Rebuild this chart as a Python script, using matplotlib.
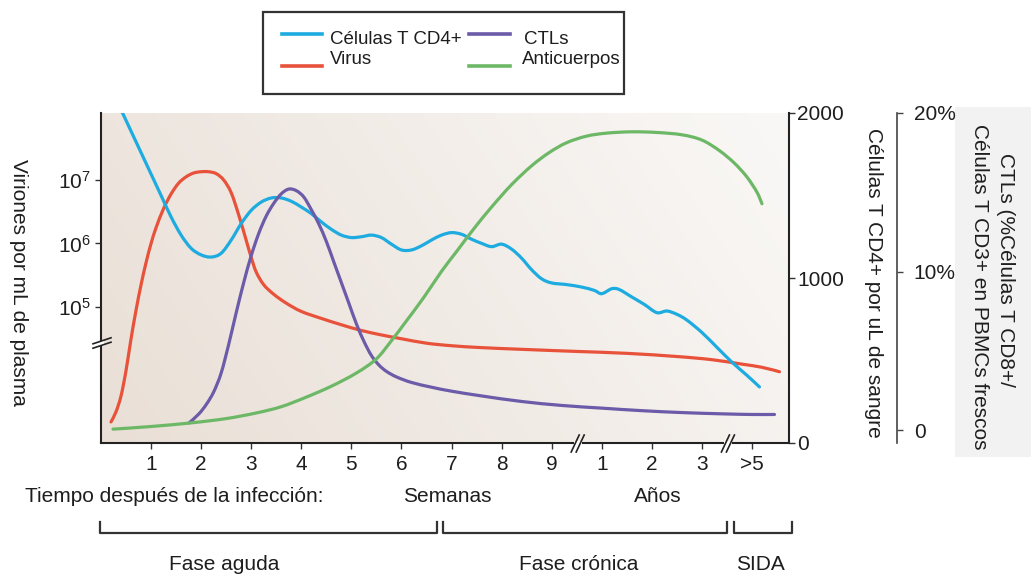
import matplotlib
matplotlib.use('Agg')
import numpy as np
import matplotlib.pyplot as plt
from matplotlib.lines import Line2D
from matplotlib.patches import Rectangle, PathPatch
from matplotlib.path import Path
from matplotlib.ticker import NullLocator
from matplotlib.transforms import blended_transform_factory

plt.rcParams['font.family'] = ['Liberation Sans', 'DejaVu Sans']
plt.rcParams['mathtext.fontset'] = 'custom'
plt.rcParams['mathtext.rm'] = 'Liberation Sans'
plt.rcParams['mathtext.it'] = 'Liberation Sans:italic'

# ---------------- data ----------------
# x position: 1..9 = weeks, 10..12 = years 1..3, 13 = ">5" years
tick_pos = [1, 2, 3, 4, 5, 6, 7, 8, 9, 10, 11, 12, 13]
tick_labels = ["1", "2", "3", "4", "5", "6", "7", "8", "9", "1", "2", "3", ">5"]

cd4_x = [0.40, 0.60, 0.80, 1.00, 1.20, 1.40, 1.60, 1.80, 2.00, 2.20, 2.40, 2.60, 2.80,
         3.00, 3.20, 3.40, 3.60, 3.80, 4.00, 4.20, 4.40, 4.60, 4.80, 5.00, 5.20, 5.40,
         5.60, 5.80, 6.00, 6.20, 6.40, 6.60, 6.80, 7.00, 7.20, 7.40, 7.60, 7.80, 8.00,
         8.20, 8.40, 8.60, 8.80, 9.00, 9.30, 9.60, 9.85, 10.00, 10.20, 10.35, 10.60,
         10.85, 11.10, 11.30, 11.50, 11.70, 12.00, 12.30, 12.60, 12.90, 13.15]
cd4_cells = [2020, 1890, 1760, 1630, 1500, 1370, 1260, 1180, 1140, 1127, 1150, 1230, 1330,
             1410, 1460, 1485, 1485, 1465, 1430, 1390, 1340, 1295, 1260, 1245, 1250, 1260,
             1245, 1205, 1170, 1170, 1195, 1230, 1260, 1275, 1265, 1235, 1210, 1190, 1205,
             1175, 1120, 1050, 995, 970, 960, 945, 925, 905, 935, 930, 885,
             840, 790, 800, 780, 745, 670, 580, 490, 410, 340]

virus_x = [0.20, 0.30, 0.40, 0.50, 0.60, 0.70, 0.80, 0.90, 1.00, 1.10, 1.25, 1.40, 1.55,
           1.70, 1.85, 2.00, 2.15, 2.30, 2.45, 2.60, 2.75, 2.90, 3.00, 3.10, 3.25, 3.45,
           3.70, 4.00, 4.40, 4.80, 5.20, 5.60, 6.00, 6.50, 7.00, 7.60, 8.50, 9.50, 10.50,
           11.50, 12.20, 12.80, 13.20, 13.55]
virus_log10 = [3.19, 3.35, 3.60, 4.00, 4.50, 4.95, 5.35, 5.70, 6.00, 6.25, 6.55, 6.78, 6.95,
               7.05, 7.11, 7.13, 7.13, 7.10, 7.00, 6.80, 6.45, 6.05, 5.78, 5.55, 5.35, 5.20,
               5.06, 4.93, 4.82, 4.72, 4.63, 4.56, 4.50, 4.43, 4.39, 4.36, 4.33, 4.30, 4.27,
               4.22, 4.17, 4.10, 4.05, 3.98]

ctl_x = [1.76, 1.95, 2.10, 2.25, 2.40, 2.55, 2.70, 2.85, 3.00, 3.15, 3.30, 3.45, 3.60,
         3.75, 3.90, 4.05, 4.20, 4.35, 4.50, 4.65, 4.80, 4.95, 5.10, 5.25, 5.40, 5.55,
         5.70, 5.90, 6.20, 6.60, 7.00, 7.60, 8.40, 9.20, 10.00, 10.80, 11.60, 12.40,
         13.00, 13.45]
ctl_pct = [0.45, 1.0, 1.6, 2.4, 3.6, 5.4, 7.4, 9.3, 11.0, 12.4, 13.5, 14.3, 14.9,
           15.2, 15.1, 14.7, 13.9, 13.0, 11.9, 10.6, 9.3, 8.0, 6.7, 5.6, 4.7, 4.1,
           3.7, 3.35, 3.0, 2.7, 2.45, 2.15, 1.8, 1.55, 1.38, 1.22, 1.1, 1.02,
           0.98, 0.98]

ab_x = [0.24, 1.0, 1.8, 2.5, 3.1, 3.6, 4.1, 4.6, 5.1, 5.5, 5.8, 6.1, 6.45, 6.8, 7.1,
        7.45, 7.8, 8.2, 8.6, 8.95, 9.3, 9.7, 10.1, 10.6, 11.1, 11.6, 12.0, 12.35,
        12.65, 12.9, 13.1, 13.2]
ab_level = [4.2, 5.0, 6.1, 7.4, 9.1, 11.0, 13.9, 17.2, 21.2, 25.5, 31.0, 37.0, 44.2,
            52.0, 58.0, 65.0, 71.5, 78.3, 84.0, 88.0, 91.0, 93.0, 93.9, 94.3, 94.1,
            93.4, 91.8, 88.6, 84.8, 80.6, 76.0, 72.5]

# ---------------- styles ----------------
C_BLUE = '#1DABE0'
C_RED = '#E8523B'
C_PURPLE = '#6B5BA8'
C_GREEN = '#6DB866'
C_TXT = '#1e1e1e'
LW = 2.3
FS = 15

W, H = 1031, 577
fig = plt.figure(figsize=(W / 100, H / 100), dpi=100)
fig.patch.set_facecolor('white')


def fx(px):
    return px / W


def fy(py):
    return 1 - py / H


def smooth_path(xs, ys):
    """Catmull-Rom spline through the read points, drawn as cubic Bezier path."""
    P = np.column_stack([xs, ys]).astype(float)
    n = len(P)
    verts = [P[0]]
    codes = [Path.MOVETO]
    for i in range(n - 1):
        p0 = P[i - 1] if i > 0 else P[i]
        p1 = P[i]
        p2 = P[i + 1]
        p3 = P[i + 2] if i + 2 < n else P[i + 1]
        c1 = p1 + (p2 - p0) / 6.0
        c2 = p2 - (p3 - p1) / 6.0
        verts += [c1, c2, p2]
        codes += [Path.CURVE4] * 3
    return np.array(verts), codes


def draw_curve(a, xs, ys, color, log=False):
    yv = np.log10(ys) if log else np.asarray(ys, float)
    verts, codes = smooth_path(xs, yv)
    if log:
        verts[:, 1] = 10 ** verts[:, 1]
    patch = PathPatch(Path(verts, codes), facecolor='none', edgecolor=color, lw=LW,
                      capstyle='round', joinstyle='round', transform=a.transData)
    a.add_patch(patch)


pos = [fx(101), fy(443), fx(789) - fx(101), fy(113) - fy(443)]

# gradient background
bg = fig.add_axes(pos, zorder=0)
bg.axis('off')
gx = np.linspace(0, 1, 256)
gy = np.linspace(0, 1, 64)
GX, GY = np.meshgrid(gx, gy)
t = np.clip(0.8 * GX + 0.25 * GY, 0, 1)
c0 = np.array([233, 223, 214]) / 255
c1 = np.array([249, 247, 245]) / 255
img = c0[None, None, :] * (1 - t[..., None]) + c1[None, None, :] * t[..., None]
bg.imshow(img, extent=[0, 1, 0, 1], origin='lower', aspect='auto')
bg.set_xlim(0, 1)
bg.set_ylim(0, 1)

# main axis: virus (log)
ax = fig.add_axes(pos, zorder=1)
ax.patch.set_visible(False)
ax.set_xlim(0, 13.74)
ax.set_yscale('log')
ax.set_ylim(10 ** 2.858, 10 ** 8.055)

ax_cd4 = ax.twinx()
ax_ctl = ax.twinx()
ax_ab = ax.twinx()

# curves
draw_curve(ax_ab, ab_x, ab_level, C_GREEN)
draw_curve(ax, virus_x, [10 ** v for v in virus_log10], C_RED, log=True)
draw_curve(ax_ctl, ctl_x, ctl_pct, C_PURPLE)
draw_curve(ax_cd4, cd4_x, cd4_cells, C_BLUE)
for a in (ax, ax_cd4, ax_ctl, ax_ab):
    a.set_xlim(0, 13.74)
ax.set_ylim(10 ** 2.858, 10 ** 8.055)
ax_cd4.set_ylim(0, 2000)
ax_ctl.set_ylim(-0.82, 19.93)
ax_ab.set_ylim(0, 100)

# spines
for s in ['top', 'right']:
    ax.spines[s].set_visible(False)
for s in ['left', 'bottom']:
    ax.spines[s].set_linewidth(1.5)
    ax.spines[s].set_color('#222222')
for a in (ax_cd4, ax_ctl, ax_ab):
    for s in ['top', 'left', 'bottom']:
        a.spines[s].set_visible(False)
ax_ab.spines['right'].set_visible(False)
ax_ab.set_yticks([])
ax_cd4.spines['right'].set_linewidth(1.5)
ax_cd4.spines['right'].set_color('#222222')
ax_ctl.spines['right'].set_position(('outward', 108 * 0.72))
ax_ctl.spines['right'].set_linewidth(1.2)
ax_ctl.spines['right'].set_color('#444444')

# ticks
ax.set_xticks(tick_pos)
ax.set_xticklabels(tick_labels)
ax.tick_params(axis='x', length=4, width=1, pad=5, labelsize=FS, colors='#333333',
               labelcolor=C_TXT)
ax.set_yticks([1e5, 1e6, 1e7])
ax.set_yticklabels([r'$10^{5}$', r'$10^{6}$', r'$10^{7}$'])
ax.yaxis.set_minor_locator(NullLocator())
ax.tick_params(axis='y', length=4, width=1, pad=3, labelsize=FS, colors='#333333',
               labelcolor=C_TXT)

ax_cd4.set_yticks([0, 1000, 2000])
ax_cd4.tick_params(axis='y', length=4, width=1, pad=2, labelsize=FS, colors='#333333',
                   labelcolor=C_TXT)
ax_ctl.set_yticks([0, 10, 20])
ax_ctl.set_yticklabels(['0', '10%', '20%'])
ax_ctl.tick_params(axis='y', length=4, width=1, pad=8, labelsize=FS, colors='#444444',
                   labelcolor=C_TXT)

# axis breaks
trans_x = blended_transform_factory(ax.transData, ax.transAxes)
for xb in [9.52, 12.52]:
    cx, cy = trans_x.transform((xb, 0))
    fig.add_artist(Rectangle(((cx - 4) / W, (cy - 2.5) / H), 8 / W, 5 / H,
                             transform=fig.transFigure, facecolor='white',
                             edgecolor='none', zorder=10))
    for dx in (-2.5, 2.5):
        fig.add_artist(Line2D([(cx + dx - 4) / W, (cx + dx + 4) / W],
                              [(cy - 9) / H, (cy + 8) / H],
                              transform=fig.transFigure, color='#222222', lw=1.2,
                              zorder=11))

cx, cy = ax.transAxes.transform((0, (443 - 343) / 330))
fig.add_artist(Rectangle(((cx - 3) / W, (cy - 2.5) / H), 6 / W, 5 / H,
                         transform=fig.transFigure, facecolor='white',
                         edgecolor='none', zorder=10))
for dy in (-2.2, 2.2):
    fig.add_artist(Line2D([(cx - 8) / W, (cx + 10) / W],
                          [(cy + dy - 3) / H, (cy + dy + 3) / H],
                          transform=fig.transFigure, color='#222222', lw=1.2, zorder=11))

# axis titles
fig.text(fx(18), fy(282), 'Viriones por mL de plasma', rotation=270, ha='center',
         va='center', fontsize=FS, color=C_TXT)
fig.text(fx(873), fy(283), 'Células T CD4+ por uL de sangre', rotation=270, ha='center',
         va='center', fontsize=FS, color=C_TXT)
fig.add_artist(Rectangle((fx(955), fy(457)), fx(1031) - fx(955), fy(107) - fy(457),
                         transform=fig.transFigure, facecolor='#f2f2f2',
                         edgecolor='none', zorder=0))
fig.text(fx(1005), fy(270), 'CTLs (%Células T CD8+/', rotation=270, ha='center',
         va='center', fontsize=FS, color=C_TXT, zorder=2)
fig.text(fx(980), fy(287), 'Células T CD3+ en PBMCs frescos', rotation=270, ha='center',
         va='center', fontsize=FS, color=C_TXT, zorder=2)

# bottom texts
fig.text(fx(25), fy(496), 'Tiempo después de la infección:', ha='left', va='center',
         fontsize=FS, color=C_TXT)
fig.text(fx(447), fy(496), 'Semanas', ha='center', va='center', fontsize=FS, color=C_TXT)
fig.text(fx(658), fy(496), 'Años', ha='center', va='center', fontsize=FS, color=C_TXT)

brackets = [(100, 436.5, 'Fase aguda', 224), (443, 727, 'Fase crónica', 579),
            (733.5, 792, 'SIDA', 760)]
for x0, x1, lab, xc in brackets:
    fig.add_artist(Line2D([fx(x0), fx(x0), fx(x1), fx(x1)],
                          [fy(522), fy(533), fy(533), fy(522)],
                          transform=fig.transFigure, color='#333333', lw=1.6))
    fig.text(fx(xc), fy(564), lab, ha='center', va='center', fontsize=FS, color=C_TXT)

# legend box
fig.add_artist(Rectangle((fx(263), fy(94)), fx(624) - fx(263), fy(12) - fy(94),
                         transform=fig.transFigure, facecolor='white',
                         edgecolor='#333333', lw=1.6))
leg = [(282, 322, 34, C_BLUE, 330, 40, 'Células T CD4+'),
       (282, 322, 66, C_RED, 330, 60, 'Virus'),
       (469, 510, 34, C_PURPLE, 524, 40, 'CTLs'),
       (469, 510, 66, C_GREEN, 522, 60, 'Anticuerpos')]
for x0, x1, yl, col, xt, yt, lab in leg:
    fig.add_artist(Line2D([fx(x0), fx(x1)], [fy(yl), fy(yl)], transform=fig.transFigure,
                          color=col, lw=2.6))
    fig.text(fx(xt), fy(yt), lab, ha='left', va='center', fontsize=13.5, color=C_TXT)

fig.savefig('out.png', dpi=100)
